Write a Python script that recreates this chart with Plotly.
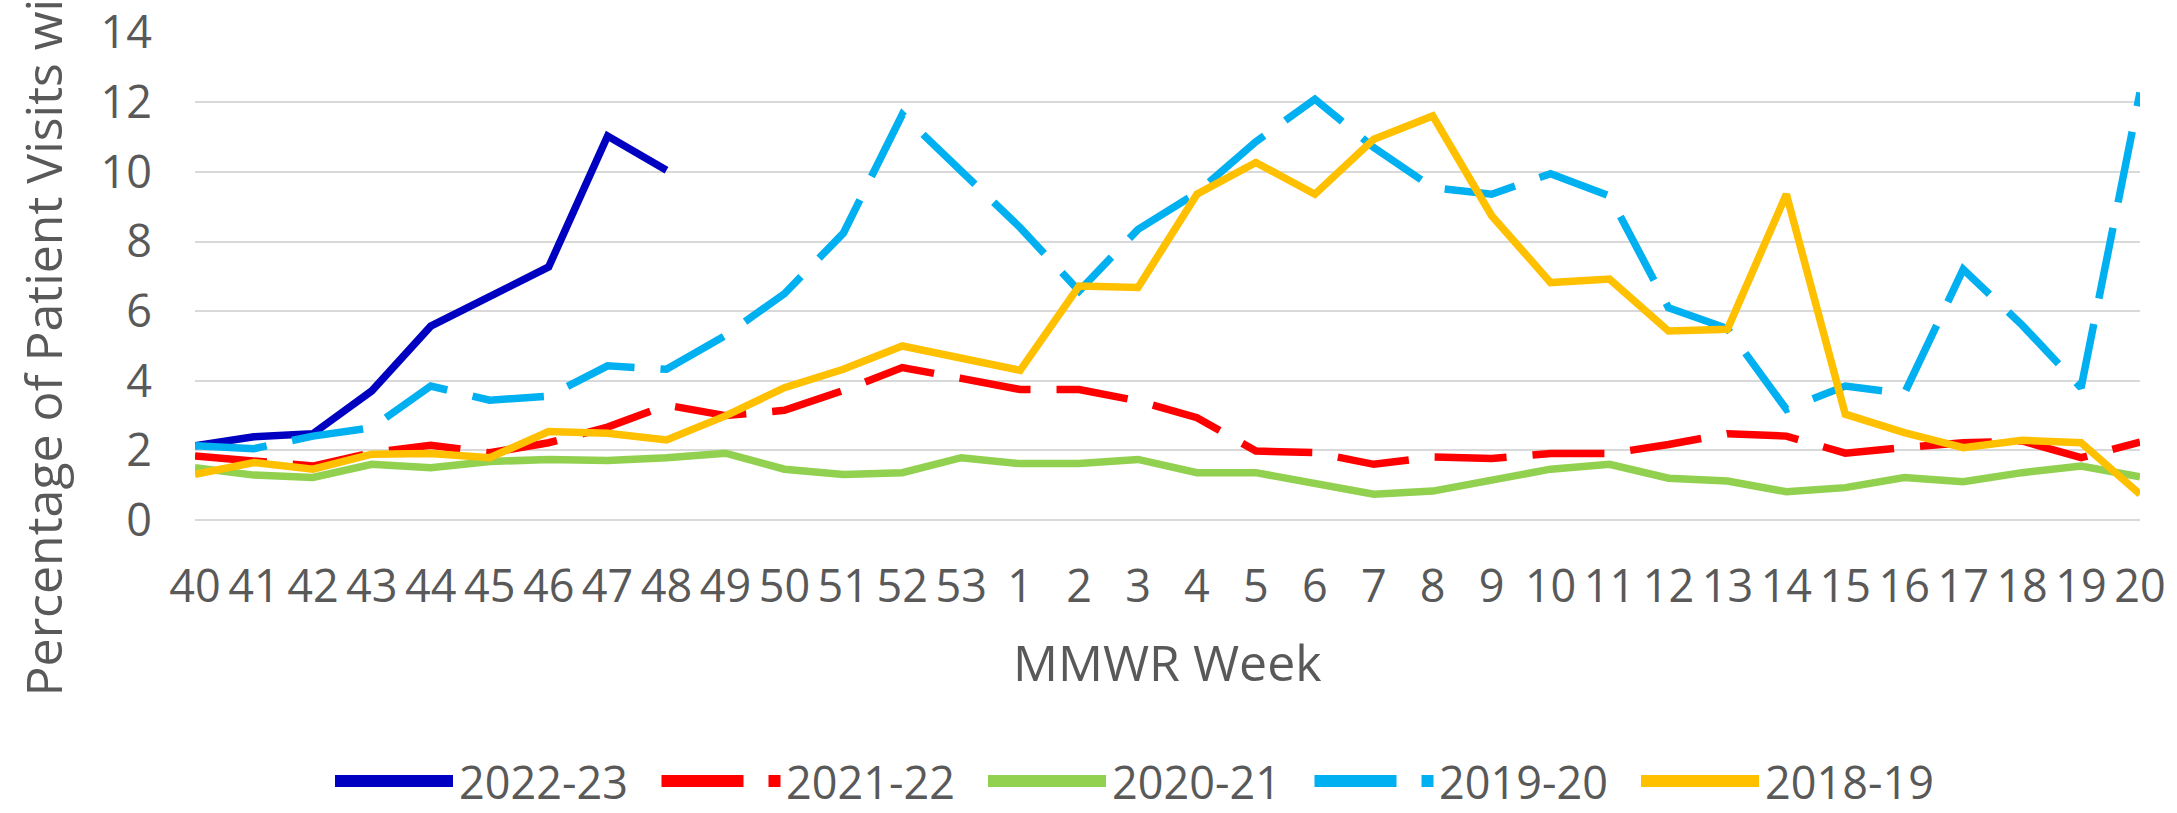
import plotly.graph_objects as go

# ---------------- data ----------------
weeks = [str(w) for w in range(40, 54)] + [str(w) for w in range(1, 21)]

s2022_23 = [2.13, 2.39, 2.48, 3.71, 5.57, 6.44, 7.27, 11.03, 10.05]
s2021_22 = [1.84, 1.71, 1.55, 1.93, 2.15, 1.93, 2.22, 2.67, 3.30, 3.00,
            3.15, 3.72, 4.38, 4.07, 3.75, 3.75, 3.42, 2.94, 1.98, 1.94,
            1.60, 1.81, 1.77, 1.91, 1.91, 2.17, 2.48, 2.41, 1.92, 2.08,
            2.22, 2.27, 1.79, 2.24]
s2020_21 = [1.50, 1.29, 1.22, 1.60, 1.50, 1.68, 1.74, 1.71, 1.79, 1.92,
            1.46, 1.31, 1.36, 1.79, 1.62, 1.62, 1.74, 1.36, 1.36, 1.07,
            0.74, 0.83, 1.12, 1.46, 1.60, 1.20, 1.12, 0.81, 0.93, 1.22,
            1.10, 1.36, 1.55, 1.24]
s2019_20 = [2.13, 2.05, 2.41, 2.65, 3.85, 3.44, 3.56, 4.43, 4.33, 5.30,
            6.50, 8.24, 11.65, 10.05, 8.40, 6.58, 8.35, 9.40, 10.87, 12.09,
            10.70, 9.55, 9.36, 9.95, 9.31, 6.10, 5.50, 3.18, 3.85, 3.63,
            7.20, 5.60, 3.80, 12.28]
s2018_19 = [1.31, 1.65, 1.46, 1.89, 1.91, 1.79, 2.54, 2.49, 2.30, 2.99,
            3.80, 4.33, 5.00, 4.66, 4.30, 6.72, 6.68, 9.36, 10.27, 9.36,
            10.94, 11.61, 8.74, 6.82, 6.92, 5.43, 5.48, 9.36, 3.04, 2.51,
            2.08, 2.29, 2.22, 0.74]

series_names = ["2022-23", "2021-22", "2020-21", "2019-20", "2018-19"]
series_values = [s2022_23, s2021_22, s2020_21, s2019_20, s2018_19]
series_colors = ["#0000C0", "#FF0000", "#92D050", "#00B0F0", "#FFC000"]
series_dashed = [False, True, False, True, False]

y_ticks = [0, 2, 4, 6, 8, 10, 12, 14]

# ---------------- geometry ----------------
W, H = 2177, 813
L, R, T, B = 195, 2140, 32, 520          # plot area in px
TEXT = "#595959"
FONT = "Open Sans"


def px_x(px):
    return (px - L) / (R - L)


def px_y(py):
    return (B - py) / (B - T)


fig = go.Figure()
for name, vals, col, dashed in zip(series_names, series_values, series_colors, series_dashed):
    fig.add_trace(go.Scatter(
        x=weeks[:len(vals)], y=vals, name=name, mode="lines",
        line=dict(color=col, width=7.5, dash="72px,26px" if dashed else "solid"),
        showlegend=False,
    ))

# ---------------- custom legend (long line symbols like the original) ----------------
shapes = []
annotations = []
leg_y = px_y(781)
start, step = 335, 326.5
for k, (name, col, dashed) in enumerate(zip(series_names, series_colors, series_dashed)):
    x0 = start + k * step
    if dashed:
        shapes.append(dict(type="line", xref="paper", yref="paper",
                           x0=px_x(x0), x1=px_x(x0 + 82), y0=leg_y, y1=leg_y,
                           line=dict(color=col, width=12)))
        shapes.append(dict(type="line", xref="paper", yref="paper",
                           x0=px_x(x0 + 107), x1=px_x(x0 + 119), y0=leg_y, y1=leg_y,
                           line=dict(color=col, width=12)))
    else:
        shapes.append(dict(type="line", xref="paper", yref="paper",
                           x0=px_x(x0), x1=px_x(x0 + 118), y0=leg_y, y1=leg_y,
                           line=dict(color=col, width=12)))
    annotations.append(dict(text=name, xref="paper", yref="paper",
                            x=px_x(x0 + 122), y=leg_y, xanchor="left", yanchor="middle",
                            showarrow=False, font=dict(family=FONT, size=45, color=TEXT)))

# axis titles
annotations.append(dict(text="MMWR Week", xref="paper", yref="paper",
                        x=0.5, y=px_y(662), xanchor="center", yanchor="middle",
                        showarrow=False, font=dict(family=FONT, size=50, color=TEXT)))
annotations.append(dict(text="Percentage of Patient Visits with ILI", xref="paper", yref="paper",
                        x=px_x(42), y=px_y(699), xanchor="center", yanchor="bottom",
                        textangle=-90, showarrow=False,
                        font=dict(family=FONT, size=50, color=TEXT)))

fig.update_layout(
    width=W, height=H, autosize=False,
    margin=dict(l=L, r=W - R, t=T, b=H - B, pad=0, autoexpand=False),
    paper_bgcolor="white", plot_bgcolor="white",
    font=dict(family=FONT, color=TEXT, size=45),
    shapes=shapes, annotations=annotations,
    showlegend=False,
)
fig.update_xaxes(
    type="category", categoryorder="array", categoryarray=weeks,
    range=[0, len(weeks) - 1], showgrid=False, zeroline=False, showline=False,
    tickangle=0, ticks="", ticklabelstandoff=36, automargin=False,
    tickfont=dict(family=FONT, size=45, color=TEXT),
)
fig.update_yaxes(
    range=[0, 14.02], tickvals=y_ticks, ticktext=[str(v) for v in y_ticks],
    showgrid=True, gridcolor="#D9D9D9", gridwidth=2,
    zeroline=True, zerolinecolor="#D9D9D9", zerolinewidth=2,
    showline=False, ticks="", ticklabelstandoff=42, automargin=False,
    tickfont=dict(family=FONT, size=45, color=TEXT),
)

fig.write_html("out.html", config={"displayModeBar": False},
               post_script="document.body.style.margin='0';document.body.style.overflow='hidden';")
